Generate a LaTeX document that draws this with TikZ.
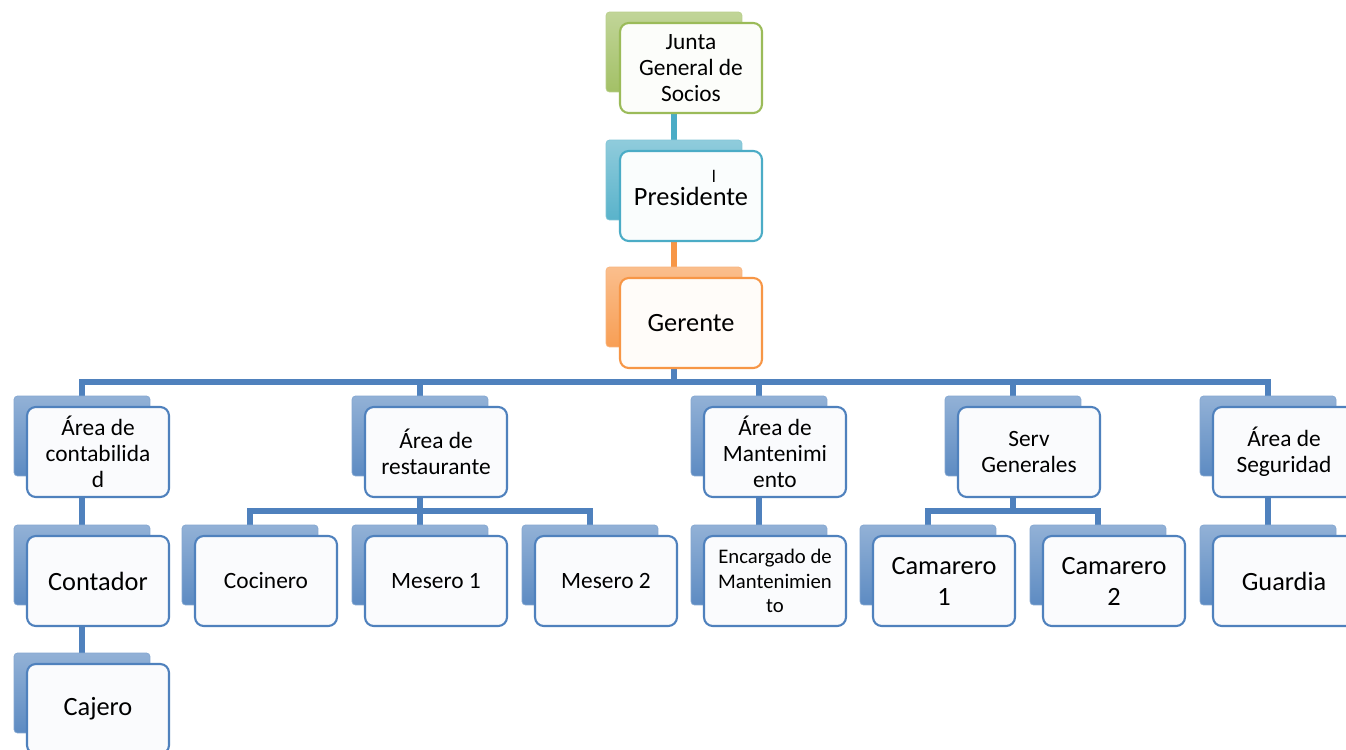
\documentclass[tikz,border=0pt]{standalone}
\usepackage{fontspec}
\setmainfont{Carlito}
\usetikzlibrary{backgrounds}
\definecolor{juntagreen}{HTML}{9BBB59}
\definecolor{prescyan}{HTML}{4BACC6}
\definecolor{gerorange}{HTML}{F79646}
\definecolor{areablue}{HTML}{4F81BD}

\begin{document}
\begin{tikzpicture}[x=0.02cm, y=-0.02cm, line join=round,
  unitback/.style={rounded corners=2pt, minimum width=2.72cm, minimum height=1.6cm,
    top color=#1!62, bottom color=#1!92, draw=#1!70, line width=0.4pt},
  unitfront/.style={rounded corners=5pt, minimum width=2.84cm, minimum height=1.8cm,
    fill=#1!3, draw=#1, line width=1.2pt, align=center, inner sep=2pt},
  link/.style={line width=3pt, draw=#1},
  bigtext/.style={font=\fontsize{15}{17.6}\selectfont},
  midtext/.style={font=\fontsize{13.3}{14.8}\selectfont},
  smalltext/.style={font=\fontsize{11.8}{14}\selectfont}]
  \useasboundingbox (0,0) rectangle (1346,750);

  % Top of the chart
  \node[unitback=juntagreen] (junta-b) at (674,52) {};
  \node[unitfront=juntagreen, midtext] (junta) at (691,68) {Junta\\General de\\Socios};
  \node[unitback=prescyan] (pres-b) at (674,180) {};
  \node[unitfront=prescyan, bigtext] (pres) at (691,196) {Presidente};
  \node[font=\fontsize{10}{10}\selectfont, inner sep=0pt] (pres-mark) at (714,176) {l};
  \node[unitback=gerorange] (ger-b) at (674,307) {};
  \node[unitfront=gerorange, bigtext] (ger) at (691,323) {Gerente};

  % Areas
  \node[unitback=areablue] (contab-b) at (82,436) {};
  \node[unitfront=areablue, midtext] (contab) at (98,452) {Área de\\contabilida\\d};
  \node[unitback=areablue] (rest-b) at (420,436) {};
  \node[unitfront=areablue, midtext] (rest) at (436,452) {Área de\\restaurante};
  \node[unitback=areablue] (mant-b) at (759,436) {};
  \node[unitfront=areablue, midtext] (mant) at (775,452) {Área de\\Mantenimi\\ento};
  \node[unitback=areablue] (serv-b) at (1013,436) {};
  \node[unitfront=areablue, midtext] (serv) at (1029,452) {Serv\\Generales};
  \node[unitback=areablue] (seg-b) at (1268,436) {};
  \node[unitfront=areablue, midtext] (seg) at (1284,452) {Área de\\Seguridad};

  % Staff
  \node[unitback=areablue] (contador-b) at (82,565) {};
  \node[unitfront=areablue, bigtext] (contador) at (98,581) {Contador};
  \node[unitback=areablue] (cajero-b) at (82,693) {};
  \node[unitfront=areablue, bigtext] (cajero) at (98,709) {Cajero};
  \node[unitback=areablue] (cocinero-b) at (250,565) {};
  \node[unitfront=areablue, midtext] (cocinero) at (266,581) {Cocinero};
  \node[unitback=areablue] (mesero1-b) at (420,565) {};
  \node[unitfront=areablue, midtext] (mesero1) at (436,581) {Mesero 1};
  \node[unitback=areablue] (mesero2-b) at (590,565) {};
  \node[unitfront=areablue, midtext] (mesero2) at (606,581) {Mesero 2};
  \node[unitback=areablue] (encargado-b) at (759,565) {};
  \node[unitfront=areablue, smalltext] (encargado) at (775,581) {Encargado de\\Mantenimien\\to};
  \node[unitback=areablue] (camarero1-b) at (928,565) {};
  \node[unitfront=areablue, bigtext] (camarero1) at (944,581) {Camarero\\1};
  \node[unitback=areablue] (camarero2-b) at (1098,565) {};
  \node[unitfront=areablue, bigtext] (camarero2) at (1114,581) {Camarero\\2};
  \node[unitback=areablue] (guardia-b) at (1268,565) {};
  \node[unitfront=areablue, bigtext] (guardia) at (1284,581) {Guardia};

  % Bus points
  \coordinate (bus) at (674,382);
  \coordinate (restbus) at (420,511);
  \coordinate (servbus) at (1013,511);

  % Connectors
  \begin{scope}[on background layer]
    \fill[white] (0,0) rectangle (1346,750);
    \draw[link=prescyan] (junta-b.center) -- (pres-b.center);
    \draw[link=gerorange] (pres-b.center) -- (ger-b.center);
    \draw[link=areablue] (ger-b.center) -- (bus);
    \foreach \n in {contab,rest,mant,serv,seg}
      \draw[link=areablue] (bus) -| (\n-b.center);
    \draw[link=areablue] (contab-b.center) -- (contador-b.center) -- (cajero-b.center);
    \draw[link=areablue] (rest-b.center) -- (restbus);
    \foreach \n in {cocinero,mesero1,mesero2}
      \draw[link=areablue] (restbus) -| (\n-b.center);
    \draw[link=areablue] (mant-b.center) -- (encargado-b.center);
    \draw[link=areablue] (serv-b.center) -- (servbus);
    \foreach \n in {camarero1,camarero2}
      \draw[link=areablue] (servbus) -| (\n-b.center);
    \draw[link=areablue] (seg-b.center) -- (guardia-b.center);
  \end{scope}
\end{tikzpicture}
\end{document}
